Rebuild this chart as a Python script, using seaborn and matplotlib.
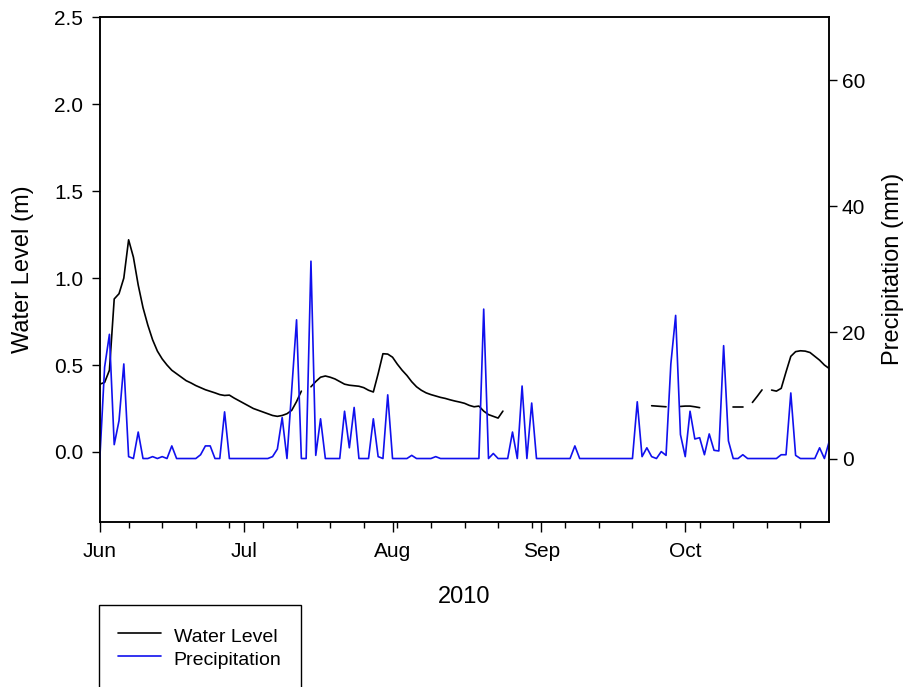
import numpy as np
import pandas as pd
import matplotlib
matplotlib.use("Agg")
import matplotlib.pyplot as plt
import matplotlib.dates as mdates
from matplotlib.lines import Line2D
import seaborn as sns

# ---------------- data ----------------
start_date = "2010-06-01"
end_date = "2010-10-31"

# daily precipitation (mm), 1 Jun - 31 Oct 2010
precipitation_mm = [
    0, 14.5, 19.7, 2.2, 6.0, 15.0, 0.3, 0, 4.2, 0,
    0, 0.3, 0, 0.3, 0, 2.0, 0, 0, 0, 0,
    0, 0.6, 2.0, 2.0, 0, 0, 7.4, 0, 0, 0,
    0, 0, 0, 0, 0, 0, 0.3, 1.5, 6.5, 0,
    11.0, 22.0, 0, 0, 31.3, 0.5, 6.3, 0, 0, 0,
    0, 7.5, 1.7, 8.1, 0, 0, 0, 6.3, 0.3, 0,
    10.1, 0, 0, 0, 0, 0.5, 0, 0, 0, 0,
    0.3, 0, 0, 0, 0, 0, 0, 0, 0, 0,
    23.7, 0, 0.8, 0, 0, 0, 4.2, 0, 11.5, 0,
    8.8, 0, 0, 0, 0, 0, 0, 0, 0, 2.0,
    0, 0, 0, 0, 0, 0, 0, 0, 0, 0,
    0, 0, 9.0, 0.3, 1.7, 0.3, 0, 1.1, 0.5, 15.0,
    22.7, 3.8, 0.3, 7.5, 3.1, 3.3, 0.6, 3.9, 1.3, 1.2,
    17.9, 2.8, 0, 0, 0.6, 0, 0, 0, 0, 0,
    0, 0, 0.6, 0.6, 10.4, 0.5, 0, 0, 0, 0,
    1.7, 0, 2.7,
]

NA = np.nan
# daily water level (m); NaN = missing record
water_level_m = [
    # 1 Jun - 13 Jul
    0.39, 0.40, 0.47, 0.88, 0.91, 1.00, 1.22, 1.12, 0.96, 0.83,
    0.73, 0.645, 0.58, 0.535, 0.50, 0.47, 0.45, 0.43, 0.41, 0.397,
    0.382, 0.37, 0.358, 0.349, 0.34, 0.33, 0.325, 0.327, 0.31, 0.295,
    0.28, 0.265, 0.25, 0.24, 0.23, 0.22, 0.21, 0.205, 0.21, 0.22,
    0.24, 0.29, 0.35,
    NA,
    # 15 Jul - 24 Aug
    0.375, 0.405, 0.43, 0.437, 0.43, 0.42, 0.405, 0.39, 0.384, 0.381,
    0.378, 0.37, 0.355, 0.345, 0.45, 0.565, 0.563, 0.545, 0.505, 0.47,
    0.44, 0.404, 0.375, 0.355, 0.34, 0.33, 0.322, 0.314, 0.308, 0.30,
    0.293, 0.287, 0.28, 0.268, 0.26, 0.264, 0.235, 0.215, 0.205, 0.195,
    0.235,
    NA, NA, NA, NA, NA, NA, NA, NA, NA, NA,
    NA, NA, NA, NA, NA, NA, NA, NA, NA, NA,
    NA, NA, NA, NA, NA, NA, NA, NA, NA, NA,
    0.266, 0.264, 0.262, 0.26,
    NA, NA,
    0.262, 0.264, 0.264, 0.26, 0.255,
    NA, NA, NA, NA, NA, NA,
    0.257, 0.257, 0.257,
    NA,
    0.285, 0.32, 0.357,
    NA,
    0.356, 0.35, 0.366, 0.46, 0.55, 0.577, 0.582, 0.58, 0.572, 0.55,
    0.528, 0.50, 0.48,
]

series_labels = ["Water Level", "Precipitation"]
month_tick_format = "%b"
x_title = "2010"
left_title = "Water Level (m)"
right_title = "Precipitation (mm)"

# ---------------- frame ----------------
dates = pd.date_range(start_date, periods=len(precipitation_mm), freq="D")
wl = pd.Series(water_level_m, dtype=float)
segment = wl.isna().cumsum()
level_df = pd.DataFrame({"date": dates, "level": wl, "seg": segment}).dropna()
rain_df = pd.DataFrame({"date": dates, "rain": precipitation_mm})

sns.set_style("ticks")
plt.rcParams["font.family"] = ["Liberation Sans", "DejaVu Sans"]
plt.rcParams["axes.linewidth"] = 1.1
for key in ("text.color", "axes.labelcolor", "xtick.color", "ytick.color",
            "axes.edgecolor"):
    plt.rcParams[key] = "black"

fig, ax = plt.subplots(figsize=(9.2, 6.87), dpi=100)
fig.subplots_adjust(left=0.1085, right=0.9013, top=0.975, bottom=0.2408)
ax2 = ax.twinx()

sns.lineplot(data=level_df, x="date", y="level", units="seg", estimator=None,
             color="black", linewidth=1.2, ax=ax, legend=False)
sns.lineplot(data=rain_df, x="date", y="rain", color="#1010ee",
             linewidth=1.2, ax=ax2, legend=False)

ax.set_xlim(pd.Timestamp(start_date), pd.Timestamp(end_date))
ax.set_ylim(-0.4, 2.5)
ax2.set_ylim(-10, 70)
ax.set_yticks([0.0, 0.5, 1.0, 1.5, 2.0, 2.5])
ax.set_yticklabels([f"{v:.1f}" for v in [0.0, 0.5, 1.0, 1.5, 2.0, 2.5]])
ax2.set_yticks([0, 20, 40, 60])

ax.xaxis.set_major_locator(mdates.MonthLocator())
ax.xaxis.set_minor_locator(mdates.WeekdayLocator(byweekday=mdates.MO))
ax.xaxis.set_major_formatter(mdates.DateFormatter(month_tick_format))

for a in (ax, ax2):
    for s in a.spines.values():
        s.set_visible(True)
        s.set_color("black")
        s.set_linewidth(1.1)

ax.tick_params(axis="y", direction="out", length=6, width=1, pad=6,
               labelsize=15, colors="black")
ax.tick_params(axis="x", which="major", direction="out", length=7, width=1,
               pad=8, labelsize=15, colors="black")
ax.tick_params(axis="x", which="minor", direction="out", length=4.5, width=1,
               colors="black")
ax2.tick_params(axis="y", direction="out", length=6, width=1, pad=3,
                labelsize=15, colors="black")

ax.set_xlabel(x_title, fontsize=17, labelpad=18, color="black")
ax.set_ylabel(left_title, fontsize=17, labelpad=14, color="black")
ax2.set_ylabel(right_title, fontsize=17, labelpad=12, color="black")

handles = [Line2D([], [], color="black", linewidth=1.2),
           Line2D([], [], color="#1010ee", linewidth=1.2)]
leg = fig.legend(handles, series_labels, loc="upper left",
                 bbox_to_anchor=(99 / 920, 1 - 605 / 687),
                 bbox_transform=fig.transFigure, borderaxespad=0,
                 fontsize=14, frameon=True, fancybox=False,
                 edgecolor="black", framealpha=1, borderpad=1.0,
                 handlelength=2.2, handletextpad=0.65, handleheight=1.3,
                 labelspacing=0.1)
leg.get_frame().set_linewidth(1.0)
for t in leg.get_texts():
    t.set_color("black")

fig.savefig("out.png", dpi=100)
